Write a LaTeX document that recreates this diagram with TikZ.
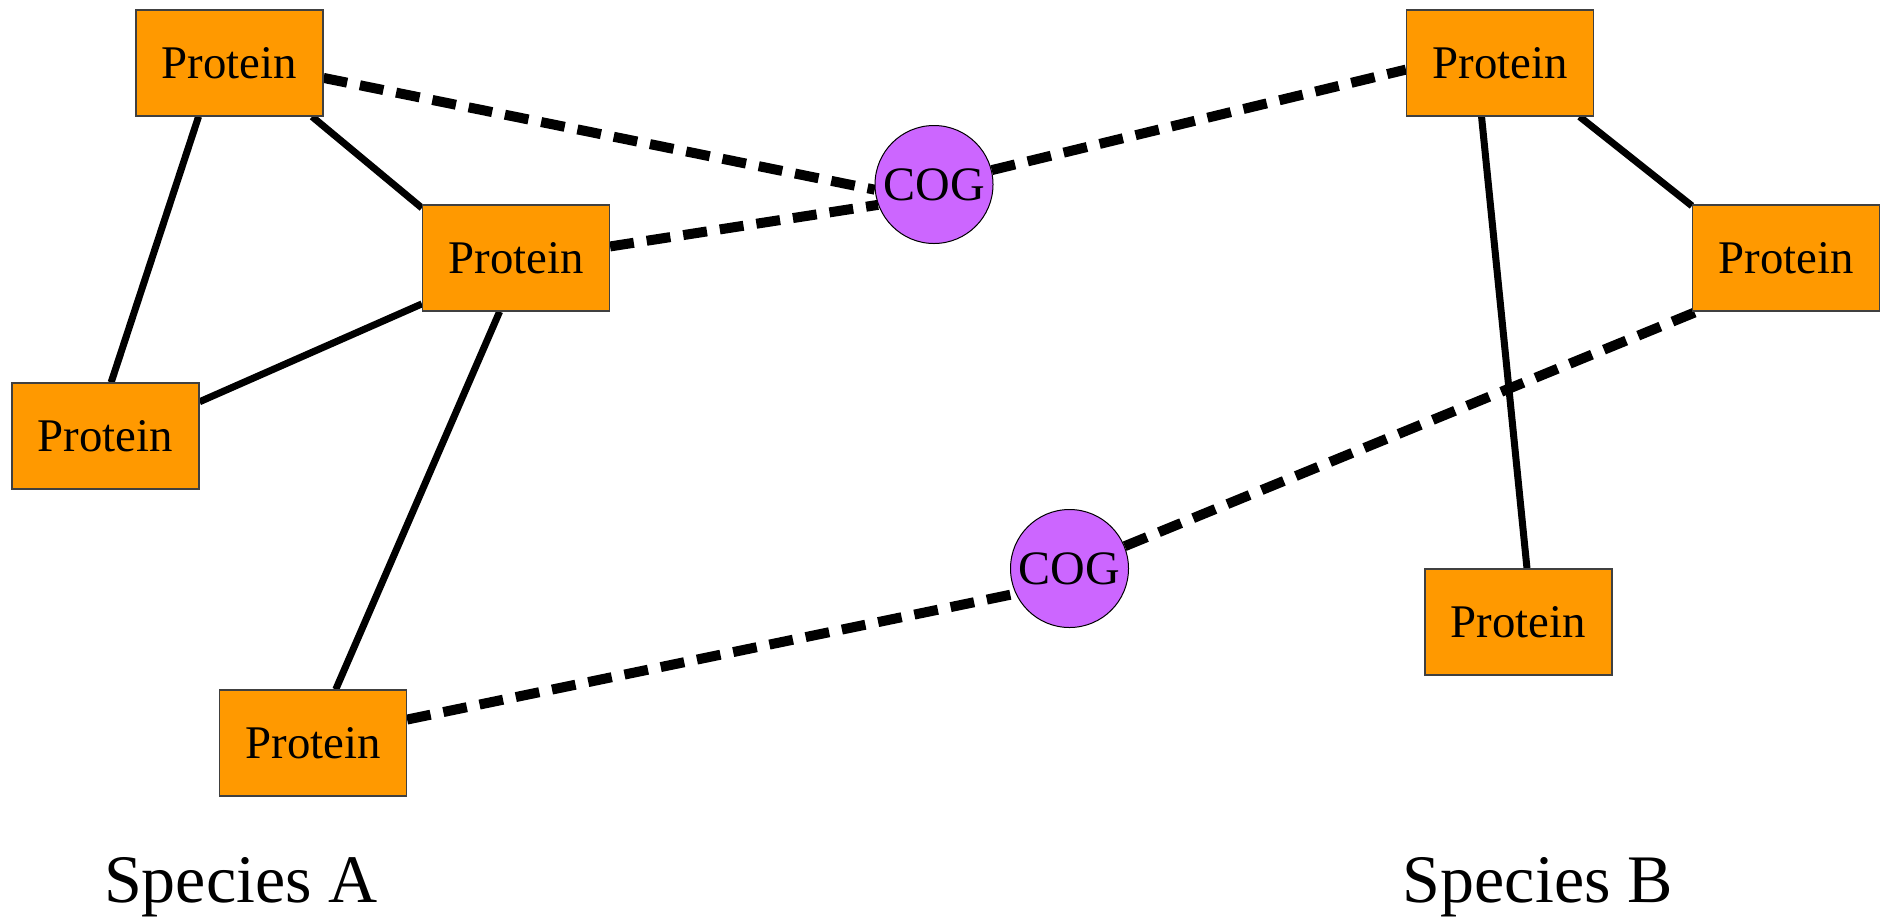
\documentclass[tikz,border=0pt]{standalone}
\usepackage{fontspec}
\setmainfont{Liberation Serif}
\usetikzlibrary{backgrounds}
\definecolor{protfill}{HTML}{FF9900}
\definecolor{cogfill}{HTML}{CC66FF}
\definecolor{protline}{HTML}{404040}
\tikzset{
  protein/.style={rectangle, draw=protline, line width=0.6pt, fill=protfill,
    minimum width=93.5pt, minimum height=53pt, inner sep=0pt,
    font=\fontsize{23.4}{28}\selectfont},
  cog/.style={circle, draw=black, line width=0.5pt, fill=cogfill,
    minimum size=59pt, inner sep=0pt, font=\fontsize{24}{28}\selectfont},
  species/.style={anchor=base, inner sep=0pt, font=\fontsize{34}{40}\selectfont},
  interaction/.style={line width=3.5pt},
  orthology/.style={line width=5pt, dash pattern=on 12pt off 6.5pt},
}
\begin{document}
\begin{tikzpicture}[x=0.5pt,y=-0.5pt]
\useasboundingbox (0,0) rectangle (1889,917);

% species A proteins
\node[protein] (a1) at (229.5,63)  {Protein};
\node[protein] (a2) at (516,258)   {Protein};
\node[protein] (a3) at (105.5,436) {Protein};
\node[protein] (a4) at (313,743)   {Protein};

% species B proteins
\node[protein] (b1) at (1500,63)    {Protein};
\node[protein] (b2) at (1786,258)   {Protein};
\node[protein] (b3) at (1518.5,622) {Protein};

% orthologous groups
\node[cog] (c1) at (934,184.5)  {COG};
\node[cog] (c2) at (1069.5,568.5) {COG};

% labels
\node[species] (spa) at (241,902)  {Species A};
\node[species] (spb) at (1538,902) {Species B};

\begin{scope}[on background layer]
  % protein interactions
  \draw[interaction] (a1.240.9) -- (a3.84.1);
  \draw[interaction] (a1.-33.0) -- (a2.152.95);
  \draw[interaction] (a2.206.6) -- (a3.20.0);
  \draw[interaction] (a2.253.2) -- (a4.67.5);
  \draw[interaction] (b1.251.25) -- (b3.81.9);
  \draw[interaction] (b1.326.1) -- (b2.151.3);
  % membership in orthologous groups
  \draw[orthology] (a1.-9.1) -- (c1.185.3);
  \draw[orthology] (a2.7.9) -- (c1.200.4);
  \draw[orthology] (c1.14.7) -- (b1.184.3);
  \draw[orthology] (a4.14.3) -- (c2.205.6);
  \draw[orthology] (c2.22.6) -- (b2.211.4);
\end{scope}
\end{tikzpicture}
\end{document}
